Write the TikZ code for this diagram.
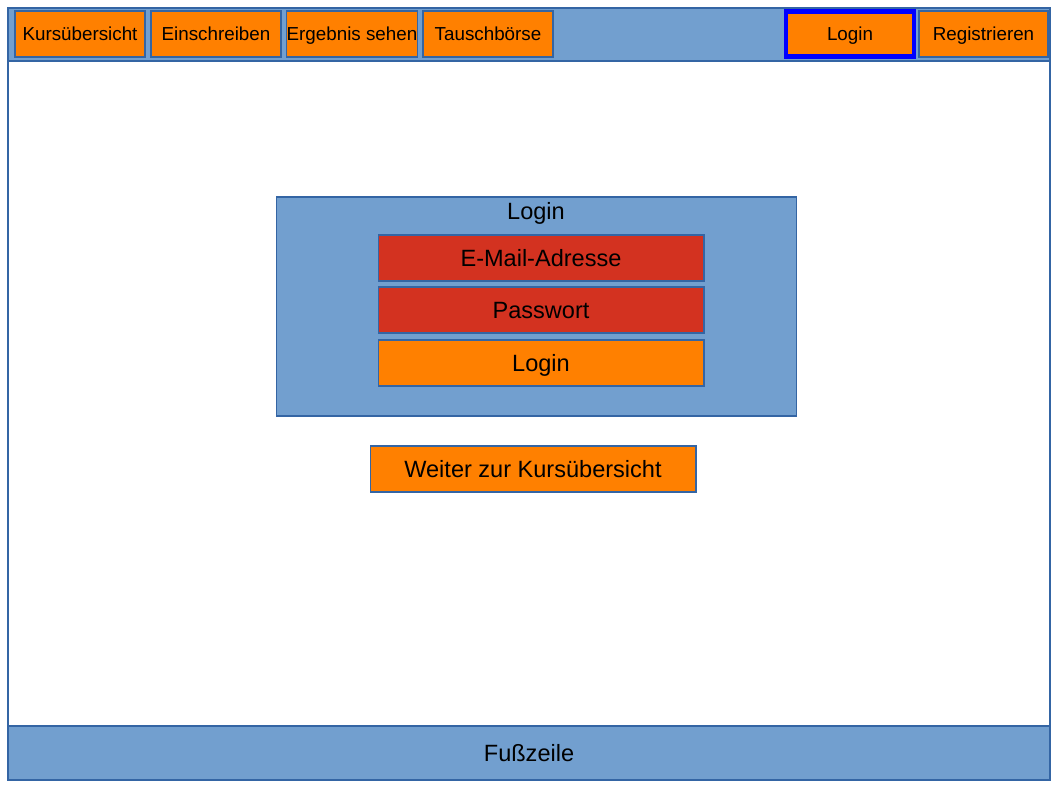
\documentclass[tikz,border=0pt]{standalone}
\usepackage{fontspec}
\setmainfont{Liberation Sans}
\usetikzlibrary{positioning}
\definecolor{barblue}{RGB}{114,159,207}
\definecolor{lineblue}{RGB}{52,101,164}
\definecolor{btnorange}{RGB}{255,128,0}
\definecolor{fieldred}{RGB}{211,50,32}

\begin{document}
\begin{tikzpicture}[x=0.02cm,y=-0.02cm,
  navbtn/.style={draw=lineblue,line width=0.6pt,fill=btnorange,minimum width=2.6cm,minimum height=0.92cm,inner sep=0pt,text height=7.7pt,text depth=0pt,font=\fontsize{10.7}{12}\selectfont},
  field/.style={draw=lineblue,line width=0.6pt,fill=fieldred,minimum width=6.52cm,minimum height=0.92cm,inner sep=0pt,text height=9.6pt,text depth=0pt,font=\fontsize{13.4}{15}\selectfont},
  bigbtn/.style={field,fill=btnorange},
  label/.style={text height=9.6pt,text depth=0pt,inner sep=0pt,font=\fontsize{13.4}{15}\selectfont}]
\useasboundingbox (0,0) rectangle (1058,794);
% Page frame
\fill[white] (0,0) rectangle (1058,794);
\draw[lineblue,line width=1.1pt] (8,8) rectangle (1050,780);
% Header bar
\draw[lineblue,line width=0.8pt,fill=barblue] (8,8) rectangle (1050,61);
\foreach \name/\x/\txt in {kurs/80/Kursübersicht,einschr/216/Einschreiben,ergebnis/352/Ergebnis sehen,tausch/488/Tauschbörse} {
    \node[navbtn] (\name) at (\x,34) {\txt};
}
\node[navbtn,draw=blue,line width=2.8pt,minimum width=2.56cm,minimum height=0.9cm] (loginnav) at (850,34) {Login};
\node[navbtn,minimum width=2.58cm] (registr) at (983.5,34) {Registrieren};
% Login panel
\node[draw=lineblue,line width=0.6pt,fill=barblue,minimum width=10.42cm,minimum height=4.38cm] (panel) at (536.5,306.5) {};
\node[label] (paneltitle) at (536,211) {Login};
\node[field] (mail) at (541,258) {E-Mail-Adresse};
\node[field] (pass) at (541,310) {Passwort};
\node[bigbtn] (loginbtn) at (541,363) {Login};
\node[bigbtn] (weiter) at (533,469) {Weiter zur Kursübersicht};
% Footer
\draw[lineblue,line width=0.8pt,fill=barblue] (8,726) rectangle (1050,780);
\node[label] (fuss) at (529,753) {Fußzeile};
\end{tikzpicture}
\end{document}
